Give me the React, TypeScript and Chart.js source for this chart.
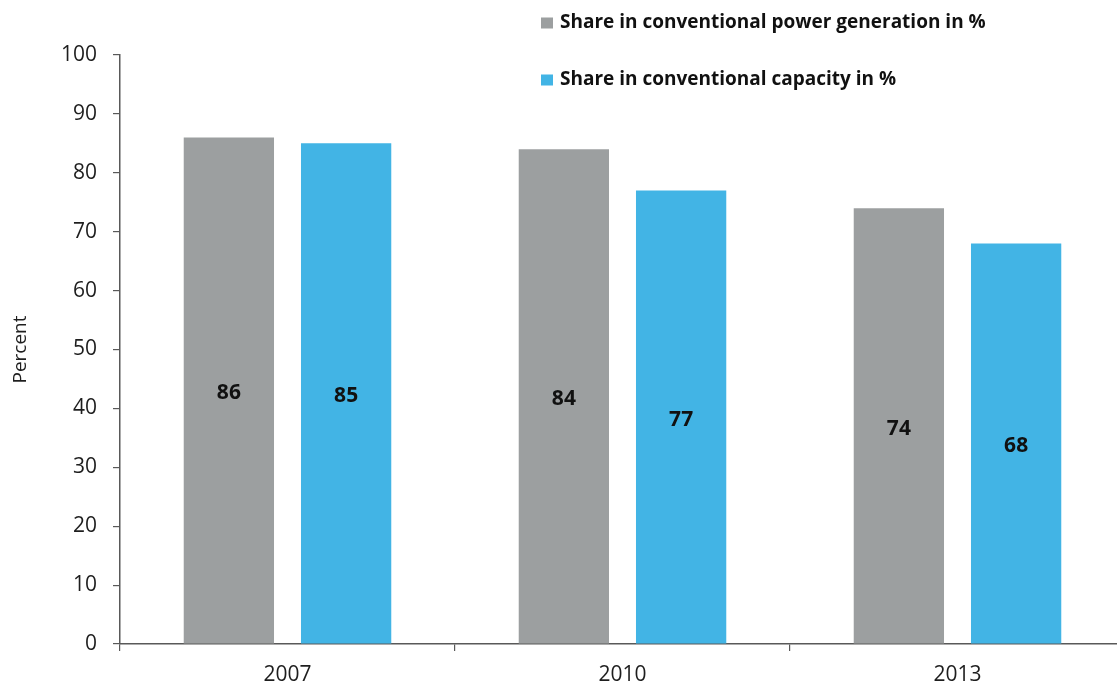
import React, { useEffect, useRef } from "react";
import { Chart, registerables } from "chart.js";

Chart.register(...registerables);

const categories = ["2007", "2010", "2013"];
const generationShare = [86, 84, 74];
const capacityShare = [85, 77, 68];
const seriesLabels = [
  "Share in conventional power generation in %",
  "Share in conventional capacity in %",
];
const seriesColors = ["#9c9fa0", "#42b4e5"];
const yAxisTitle = "Percent";

const AXIS_COLOR = "#595959";
const TICK_FONT = "'Open Sans', sans-serif";
const BOLD_FONT = "'Open Sans', sans-serif";

const valueLabelPlugin = {
  id: "valueLabels",
  afterDatasetsDraw(chart: any) {
    const ctx = chart.ctx;
    ctx.save();
    ctx.font = `bold 21px ${BOLD_FONT}`;
    ctx.fillStyle = "#111111";
    ctx.textAlign = "center";
    ctx.textBaseline = "middle";
    chart.data.datasets.forEach((ds: any, i: number) => {
      const meta = chart.getDatasetMeta(i);
      meta.data.forEach((el: any, j: number) => {
        const p = el.getProps(["x", "y", "base"], true);
        ctx.fillText(String(ds.data[j]), p.x, (p.y + p.base) / 2 + 3);
      });
    });
    ctx.restore();
  },
};

const customLegendPlugin = {
  id: "customLegend",
  afterDraw(chart: any) {
    const ctx = chart.ctx;
    ctx.save();
    ctx.textAlign = "left";
    ctx.textBaseline = "middle";
    ctx.font = `bold 19px ${BOLD_FONT}`;
    const x0 = 541;
    const rows = [23, 80];
    chart.data.datasets.forEach((ds: any, i: number) => {
      const cy = rows[i];
      ctx.fillStyle = ds.backgroundColor;
      ctx.fillRect(x0, cy - 5.5, 12, 11);
      ctx.fillStyle = "#111111";
      ctx.fillText(ds.label, x0 + 19, cy);
    });
    ctx.restore();
  },
};

export default function App() {
  const canvasRef = useRef<HTMLCanvasElement | null>(null);

  useEffect(() => {
    if (!canvasRef.current) return;
    const chart = new Chart(canvasRef.current, {
      type: "bar",
      data: {
        labels: categories,
        datasets: [
          {
            label: seriesLabels[0],
            data: generationShare,
            backgroundColor: seriesColors[0],
            categoryPercentage: 0.7,
            barPercentage: 0.77,
          },
          {
            label: seriesLabels[1],
            data: capacityShare,
            backgroundColor: seriesColors[1],
            categoryPercentage: 0.7,
            barPercentage: 0.77,
          },
        ],
      },
      options: {
        animation: false,
        responsive: true,
        maintainAspectRatio: false,
        layout: { padding: { top: 55, right: 5, bottom: 0, left: 0 } },
        plugins: {
          legend: { display: false },
          tooltip: { enabled: false },
        },
        scales: {
          x: {
            offset: true,
            grid: {
              display: true,
              offset: true,
              drawOnChartArea: false,
              drawTicks: true,
              tickLength: 7,
              color: AXIS_COLOR,
              lineWidth: 1.2,
            },
            border: { display: true, color: AXIS_COLOR, width: 1.5 },
            ticks: {
              color: "#1e1e1e",
              font: { family: TICK_FONT, size: 21 },
              padding: 11,
            },
            afterFit(scale: any) {
              scale.height = 44;
            },
          },
          y: {
            min: 0,
            max: 100,
            grid: {
              display: true,
              drawOnChartArea: false,
              drawTicks: true,
              tickLength: 7,
              color: AXIS_COLOR,
              lineWidth: 1.2,
            },
            border: { display: true, color: AXIS_COLOR, width: 1.5 },
            ticks: {
              stepSize: 10,
              color: "#1e1e1e",
              font: { family: TICK_FONT, size: 21 },
              padding: 16,
            },
            title: {
              display: true,
              text: yAxisTitle,
              color: "#1e1e1e",
              font: { family: TICK_FONT, size: 19 },
              padding: { top: 9, bottom: 0 },
            },
            afterFit(scale: any) {
              scale.width = 120;
            },
          },
        },
      },
      plugins: [valueLabelPlugin, customLegendPlugin],
    });
    return () => chart.destroy();
  }, []);

  return (
    <div
      style={{
        position: "absolute",
        left: 0,
        top: 0,
        width: 1117,
        height: 688,
        overflow: "hidden",
        background: "#ffffff",
      }}
    >
      <div style={{ position: "relative", width: 1130, height: 688 }}>
        <canvas ref={canvasRef} />
      </div>
    </div>
  );
}
